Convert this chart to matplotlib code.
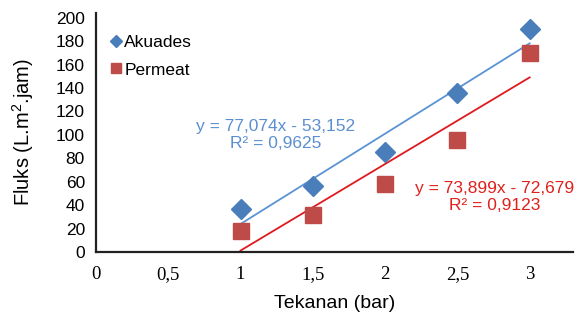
import matplotlib
matplotlib.use("Agg")
import matplotlib.pyplot as plt
import numpy as np
from matplotlib.lines import Line2D

# Data
tekanan = [1, 1.5, 2, 2.5, 3]
akuades = [36.5, 56.5, 85.5, 135.5, 190]
permeat = [18, 32, 58, 96, 170]
fit_akuades = (77.074, -53.152)
fit_permeat = (73.899, -72.679)
eq_akuades = "y = 77,074x - 53,152\nR² = 0,9625"
eq_permeat = "y = 73,899x - 72,679\nR² = 0,9123"
xticks = [0, 0.5, 1, 1.5, 2, 2.5, 3]
xticklabels = ["0", "0,5", "1", "1,5", "2", "2,5", "3"]
yticks = list(range(0, 201, 20))

sans = "Liberation Sans"
serif = "Liberation Serif"
plt.rcParams['mathtext.fontset'] = 'custom'
plt.rcParams['mathtext.rm'] = sans
plt.rcParams['mathtext.it'] = sans

fig = plt.figure(figsize=(5.76, 3.19), dpi=100)
ax = fig.add_axes([96/576, 1-252/319, 477/576, 239/319])

c_blue = "#4A7EBB"
c_red = "#BE4B48"
c_blue_line = "#5B93D3"
c_red_line = "#E0191E"

xs = np.array([tekanan[0], tekanan[-1]])
ax.plot(xs, fit_akuades[0]*xs + fit_akuades[1], color=c_blue_line, lw=1.3, zorder=2)
ax.plot(xs, fit_permeat[0]*xs + fit_permeat[1], color=c_red_line, lw=1.3, zorder=2)
ax.plot(tekanan, akuades, 'D', color=c_blue, ms=10.5, mec=c_blue, ls='none', zorder=3)
ax.plot(tekanan, permeat, 's', color=c_red, ms=11.5, mec=c_red, ls='none', zorder=3)

ax.set_xlim(0, 3.3)
ax.set_ylim(0, 204)
ax.set_xticks(xticks)
ax.set_xticklabels(xticklabels, fontfamily=serif, fontsize=13.5)
ax.set_yticks(yticks)
ax.set_yticklabels([str(v) for v in yticks], fontfamily=sans, fontsize=12.5)
ax.tick_params(axis='both', length=0)
ax.tick_params(axis='x', pad=10)
ax.tick_params(axis='y', pad=8)
for s in ["top", "right"]:
    ax.spines[s].set_visible(False)
for s in ["left", "bottom"]:
    ax.spines[s].set_linewidth(1.6)
    ax.spines[s].set_color("#222222")

ax.set_xlabel("Tekanan (bar)", fontfamily=sans, fontsize=14, labelpad=9)
ax.set_ylabel("Fluks (L.m$^{2}$.jam)", fontfamily=sans, fontsize=14.5, labelpad=14)

ax.text(1.24, 100, eq_akuades, color="#5B8FD0", fontfamily=sans, fontsize=12.5,
        ha='center', va='center', linespacing=1.2)
ax.text(2.76, 47, eq_permeat, color="#E0201B", fontfamily=sans, fontsize=12.5,
        ha='center', va='center', linespacing=1.2)

handles = [Line2D([], [], marker='D', color=c_blue, ls='none', ms=6.5),
           Line2D([], [], marker='s', color=c_red, ls='none', ms=7.5)]
leg = ax.legend(handles, ["Akuades", "Permeat"], loc='upper left',
                bbox_to_anchor=(0.005, 0.96), frameon=False,
                prop={'family': sans, 'size': 12.5}, handlelength=0.6,
                handletextpad=0.2, labelspacing=0.72, borderaxespad=0.3)

fig.savefig("out.png", dpi=100)
